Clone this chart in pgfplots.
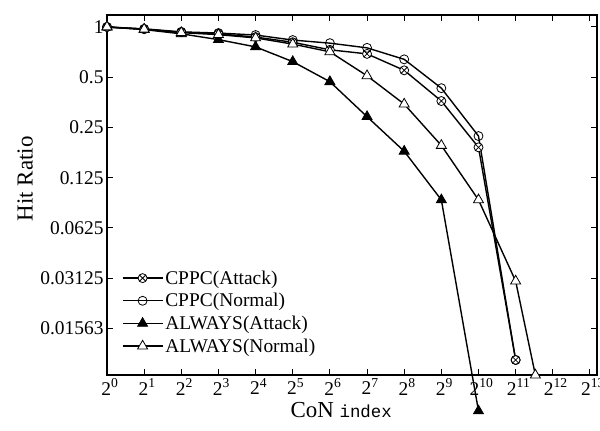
\documentclass[border=0pt]{standalone}
\usepackage{fontspec}
\setmainfont{Liberation Serif}
\setmonofont{Liberation Mono}
\usepackage{pgfplots}
\pgfplotsset{compat=1.18}
\usetikzlibrary{calc}

\begin{document}
\begin{tikzpicture}
\begin{axis}[
  scale only axis, width=490bp, height=360bp,
  xmode=log, ymode=log, log basis x=2, log basis y=2,
  xmin=1, xmax=9345, ymin=0.00821, ymax=1.18,
  xtick={1,2,4,8,16,32,64,128,256,512,1024,2048,4096,8192},
  xticklabels={2\textsuperscript{0},2\textsuperscript{1},2\textsuperscript{2},2\textsuperscript{3},2\textsuperscript{4},2\textsuperscript{5},2\textsuperscript{6},2\textsuperscript{7},2\textsuperscript{8},2\textsuperscript{9},2\textsuperscript{10},2\textsuperscript{11},2\textsuperscript{12},2\textsuperscript{13}},
  ytick={0.015625,0.03125,0.0625,0.125,0.25,0.5,1},
  yticklabels={0.01563,0.03125,0.0625,0.125,0.25,0.5,1},
  minor x tick num=9, minor y tick num=9,
  tick align=inside, major tick length=6bp, minor tick length=3bp,
  every tick/.style={black, line width=1bp},
  axis line style={line width=1.6bp},
  tick label style={font=\fontsize{19.5}{22}\selectfont},
  xticklabel style={xshift=3bp},
  clip=false,
  xlabel={CoN {\fontsize{17.5}{20}\selectfont\ttfamily index}},
  ylabel={Hit Ratio},
  label style={font=\fontsize{23}{26}\selectfont},
  xlabel style={at={(axis description cs:0.478,-0.097)}, anchor=center},
  ylabel style={at={(axis description cs:-0.167,0.545)}, anchor=center},
  legend style={at={(axis description cs:0.03,0.296)}, anchor=north west, draw=none, fill=none,
    font=\fontsize{19.5}{20}\selectfont, row sep=3.7bp, inner sep=0pt},
  legend cell align=left,
  legend image code/.code={\draw[mark repeat=2,mark phase=2] plot coordinates {(0bp,0bp)(20bp,0bp)(40bp,0bp)};},
  every axis plot/.append style={black, line width=1.4bp},
]
\addplot[mark=otimes*, mark size=4.5bp, mark options={fill=white, line width=0.8bp}] coordinates {
 (1,1) (2,0.97) (4,0.93) (8,0.91) (16,0.87) (32,0.81) (64,0.73) (128,0.69) (256,0.55) (512,0.36) (1024,0.19) (2048,0.0101)};
\addlegendentry{CPPC(Attack)}
\addplot[mark=o, mark size=4.5bp, mark options={fill=white, line width=0.8bp}] coordinates {
 (1,1) (2,0.975) (4,0.935) (8,0.92) (16,0.895) (32,0.835) (64,0.80) (128,0.75) (256,0.64) (512,0.43) (1024,0.222) (2048,0.0101)};
\addlegendentry{CPPC(Normal)}
\addplot[mark=triangle*, mark size=5.8bp, mark options={fill=black, line width=0.8bp}] coordinates {
 (1,1) (2,0.965) (4,0.91) (8,0.84) (16,0.76) (32,0.62) (64,0.47) (128,0.29) (256,0.18) (512,0.092) (1024,0.0050)};
\addlegendentry{ALWAYS(Attack)}
\addplot[mark=triangle*, mark size=5.8bp, mark options={fill=white, line width=0.8bp}] coordinates {
 (1,1) (2,0.97) (4,0.925) (8,0.90) (16,0.86) (32,0.79) (64,0.71) (128,0.51) (256,0.345) (512,0.195) (1024,0.092) (2048,0.030) (2960,0.0082)};
\addlegendentry{ALWAYS(Normal)}
\end{axis}
\pgfresetboundingbox
\path ($(current axis.south west)+(-107bp,-56bp)$) rectangle ($(current axis.north east)+(3bp,15bp)$);
\end{tikzpicture}
\end{document}
